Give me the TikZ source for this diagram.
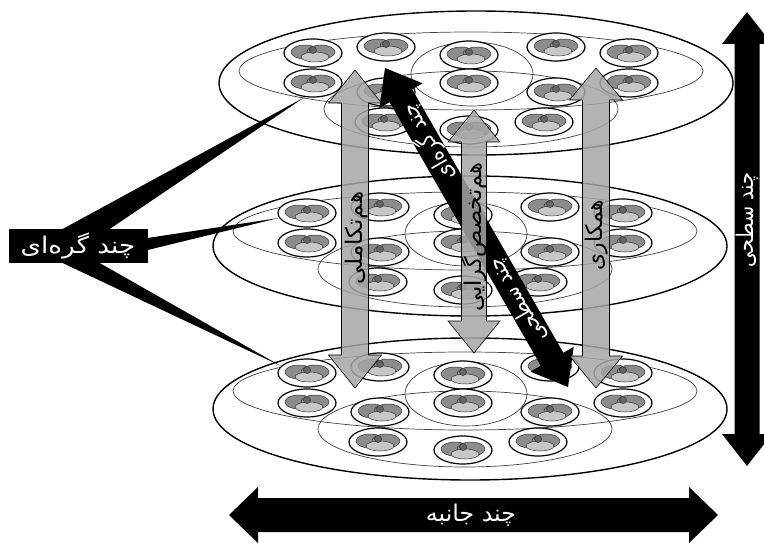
\documentclass[tikz,border=0pt]{standalone}
\usepackage{fontspec}
\newfontfamily\fafont[Script=Arabic]{DejaVu Sans}
\TeXXeTstate=1
\usetikzlibrary{calc,shapes.geometric}
\newcommand{\fa}[2][1]{\scalebox{#1}[1]{\fafont\beginR #2\endR}}
% fat double arrow between two named points: style, from, to, shaft half, head half, head length
\newcommand{\fatarrow}[6]{%
  \path[#1] (#2) -- ($(#2)!#6!(#3)!#5!90:(#3)$) -- ($(#2)!#6!(#3)!#4!90:(#3)$)
    -- ($(#3)!#6!(#2)!#4!-90:(#2)$) -- ($(#3)!#6!(#2)!#5!-90:(#2)$) -- (#3)
    -- ($(#3)!#6!(#2)!#5!90:(#2)$) -- ($(#3)!#6!(#2)!#4!90:(#2)$)
    -- ($(#2)!#6!(#3)!#4!-90:(#3)$) -- ($(#2)!#6!(#3)!#5!-90:(#3)$) -- cycle;}
\begin{document}
\begin{tikzpicture}[x=1pt,y=-1pt]
        \tikzstyle{layer}=[draw=black,line width=1.4pt]
        \tikzstyle{ring}=[draw=black!75,line width=0.7pt]
        \tikzstyle{agent}=[ellipse,draw=black,line width=1.2pt,fill=white,minimum width=58pt,minimum height=28pt,inner sep=0pt]
        \tikzstyle{blade}=[draw=black!80,line width=0.5pt]
        \tikzstyle{wedge}=[fill=black]
        \tikzstyle{blackarrow}=[fill=black]
        \tikzstyle{greyarrow}=[draw=black,line width=0.6pt,fill=black!35,fill opacity=0.85]
        \tikzstyle{lbl}=[font=\fontsize{23}{25}\selectfont,inner sep=0pt]
        \useasboundingbox (0,0) rectangle (764,543);
       \begin{scope}
         \coordinate (L1) at (476,90);
         \coordinate (L2) at (470,250);
         \coordinate (L3) at (470,410);
         \foreach \l/\sh/\ry in {1/7/72,2/4/70,3/1/71} {
           \draw[layer] ($(L\l)+(0,-\sh)$) ellipse [x radius=257pt,y radius=\ry pt];
           \draw[ring] ($(L\l)+(-5,-19)$) ellipse [x radius=232pt,y radius=39pt];
           \draw[ring] ($(L\l)+(-4,-16)$) ellipse [x radius=61pt,y radius=32pt];
           \draw[ring] ($(L\l)+(-5,19)$) ellipse [x radius=147pt,y radius=38pt];
           \foreach \i/\dx/\dy in {1/-163/-37,2/-90/-43,3/-7/-35,4/80/-43,5/153/-37,
                                   6/-163/-7,7/-90/2,8/-7/-7,9/80/2,10/153/-7,
                                   11/-92/32,12/-7/40,13/68/32} {
             \node[agent] (ag-\l-\i) at ($(L\l)+(\dx,\dy)$) {};
             \begin{scope}[shift={(ag-\l-\i.center)}]
               \draw[blade,fill=black!45] (-8,-1) ellipse [x radius=14pt,y radius=7pt];
               \draw[blade,fill=black!45] (8,-1) ellipse [x radius=14pt,y radius=7pt];
               \draw[blade,fill=black!22] (2,4) ellipse [x radius=14pt,y radius=5pt];
               \draw[blade,fill=black!60] (0,-3) circle [radius=3.5pt];
             \end{scope}
           }
         }
        \end{scope}
        % multi-node label and its links
         \node[lbl,fill=black,text=white,minimum width=139pt,minimum height=34pt] (grp) at (78,246) {\fa[1.14]{چند گره‌ای}};
         \fill[wedge] ($(grp.north)+(-15,0)$) -- ($(grp.north)+(32,0)$) -- (ag-1-6.240) -- cycle;
         \fill[wedge] ($(grp.east)+(0,-8)$) -- ($(grp.east)+(0,4)$) -- (ag-2-1.190) -- cycle;
         \fill[wedge] ($(grp.south)+(-15,0)$) -- ($(grp.south)+(22,0)$) -- (ag-3-1.165) -- cycle;
         \node[lbl,fill=black,text=white,minimum width=139pt,minimum height=34pt] at (grp) {\fa[1.14]{چند گره‌ای}};
        % black arrows
         \coordinate (lvl-a) at (747,12);
         \coordinate (lvl-b) at (747,466);
         \coordinate (side-a) at (229,515);
         \coordinate (side-b) at (718,515);
         \coordinate (diag-a) at (385,68);
         \coordinate (diag-b) at (568,387);
         \fatarrow{blackarrow}{lvl-a}{lvl-b}{12.5pt}{25pt}{32pt}
         \fatarrow{blackarrow}{side-a}{side-b}{17pt}{28pt}{29pt}
         \fatarrow{blackarrow}{diag-a}{diag-b}{13pt}{25pt}{32pt}
         \node[lbl,rotate=90,text=white] (lvl) at (747,220) {\fa[0.84]{چند سطحی}};
         \node[lbl,text=white] (side) at (471,515) {\fa[1.03]{چند جانبه}};
         \node[lbl,rotate=120,text=white] (diag-n) at ($(diag-a)!0.235!(diag-b)$) {\fa[0.85]{چند گره‌ای}};
         \node[lbl,rotate=120,text=white] (diag-l) at ($(diag-a)!0.727!(diag-b)$) {\fa[0.84]{چند سطحی}};
        % grey arrows
         \coordinate (coevo-a) at (355,70);
         \coordinate (coevo-b) at (355,388);
         \coordinate (cospec-a) at (474,110);
         \coordinate (cospec-b) at (474,353);
         \coordinate (coop-a) at (596,68);
         \coordinate (coop-b) at (596,388);
         \fatarrow{greyarrow}{coevo-a}{coevo-b}{13.5pt}{26.5pt}{33pt}
         \fatarrow{greyarrow}{cospec-a}{cospec-b}{12.5pt}{26pt}{32pt}
         \fatarrow{greyarrow}{coop-a}{coop-b}{13.5pt}{26.5pt}{32pt}
         \node[lbl,rotate=90] (coevo) at (357,238) {\fa[1.0]{هم‌تکاملی}};
         \node[lbl,rotate=90] (cospec) at (474,237) {\fa[0.98]{هم‌تخصص‌گرایی}};
         \node[lbl,rotate=90] (coop) at (597,235) {\fa[0.95]{همکاری}};
      \end{tikzpicture}
\end{document}
